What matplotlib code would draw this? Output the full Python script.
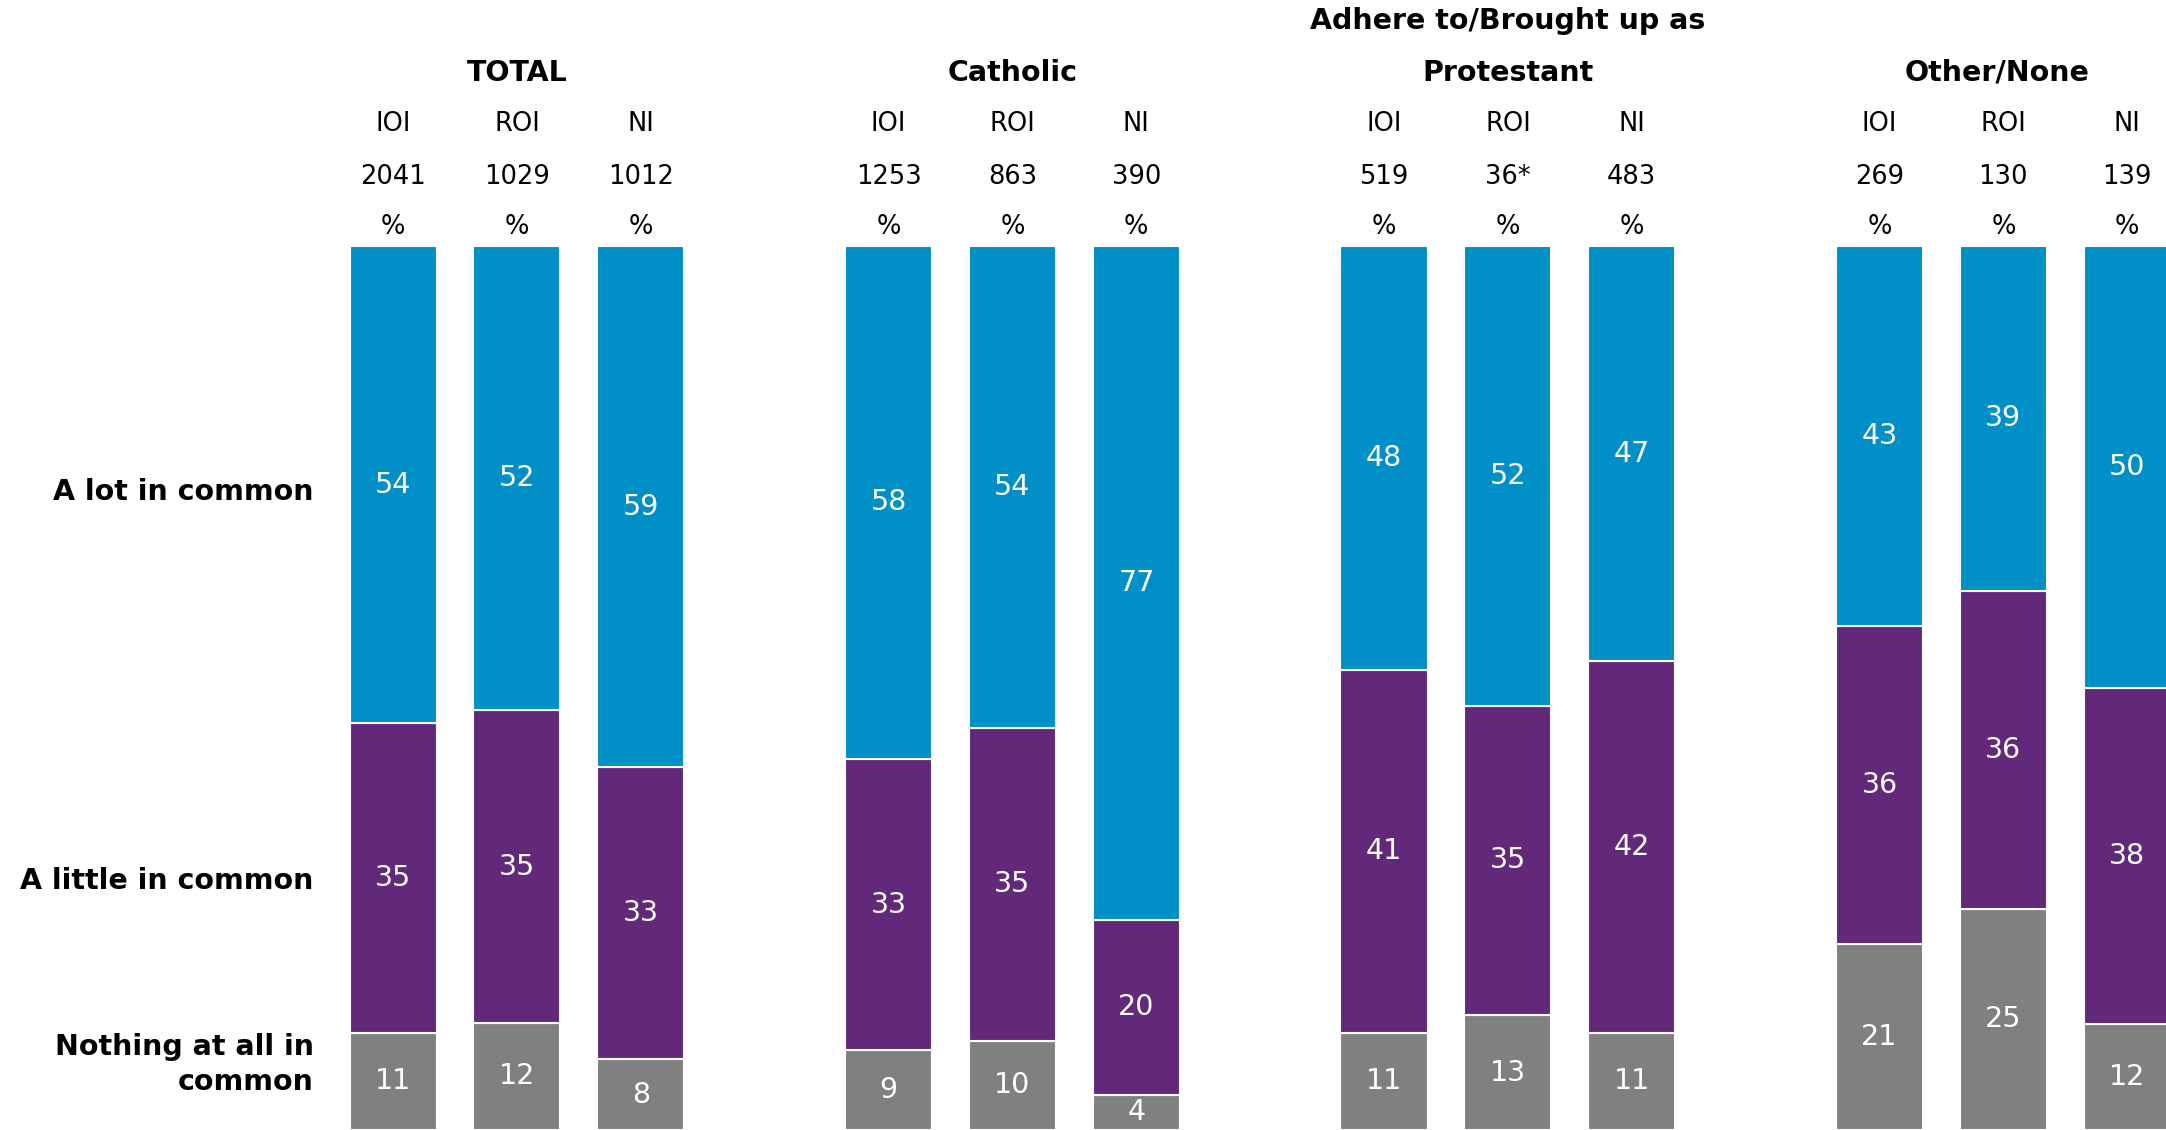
import numpy as np
import matplotlib.pyplot as plt

groups = ['TOTAL', 'Catholic', 'Protestant', 'Other/None']
regions = ['IOI', 'ROI', 'NI']
bases = ['2041', '1029', '1012', '1253', '863', '390', '519', '36*', '483', '269', '130', '139']

lot = [54, 52, 59, 58, 54, 77, 48, 52, 47, 43, 39, 50]
little = [35, 35, 33, 33, 35, 20, 41, 35, 42, 36, 36, 38]
nothing = [11, 12, 8, 9, 10, 4, 11, 13, 11, 21, 25, 12]

row_labels = ['A lot in common', 'A little in common', 'Nothing at all in\ncommon']

blue = '#008fc6'
purple = '#622879'
grey = '#808080'

# bars are scaled to 100% each
tot = np.array(lot) + np.array(little) + np.array(nothing)
s_lot = np.array(lot) / tot * 100
s_little = np.array(little) / tot * 100
s_nothing = np.array(nothing) / tot * 100

x = np.array([g * 4 + j for g in range(4) for j in range(3)], dtype=float)

fig = plt.figure(figsize=(21.66, 11.30), dpi=100)
ax = fig.add_axes([0, 0, 1, 1])
ax.set_xlim(-3.173, 14.313)
ax.set_ylim(0, 127.8)
ax.axis('off')

w = 0.703
ax.bar(x, s_nothing, w, color=grey, edgecolor='white', linewidth=1.5)
ax.bar(x, s_little, w, bottom=s_nothing, color=purple, edgecolor='white', linewidth=1.5)
ax.bar(x, s_lot, w, bottom=s_nothing + s_little, color=blue, edgecolor='white', linewidth=1.5)

vfs = 20.5
for i in range(len(x)):
    ax.text(x[i], s_nothing[i] / 2, str(nothing[i]), ha='center', va='center', color='white', fontsize=vfs)
    ax.text(x[i], s_nothing[i] + s_little[i] / 2, str(little[i]), ha='center', va='center', color='white', fontsize=vfs)
    ax.text(x[i], s_nothing[i] + s_little[i] + s_lot[i] / 2, str(lot[i]), ha='center', va='center', color='white', fontsize=vfs)

fs = 18.5
bfs = 20.5
ax.text(9, 125.4, 'Adhere to/Brought up as', ha='center', va='center', fontsize=bfs, fontweight='bold')
for g, name in enumerate(groups):
    xo = -0.05 if g == 3 else 0
    ax.text(g * 4 + 1 + xo, 119.6, name, ha='center', va='center', fontsize=bfs, fontweight='bold')
for i in range(len(x)):
    ax.text(x[i], 113.8, regions[i % 3], ha='center', va='center', fontsize=fs)
    ax.text(x[i], 107.8, bases[i], ha='center', va='center', fontsize=fs)
    ax.text(x[i], 102.1, '%', ha='center', va='center', fontsize=fs)

ax.text(-0.641, 72.1, row_labels[0], ha='right', va='center', fontsize=bfs, fontweight='bold')
ax.text(-0.641, 28.2, row_labels[1], ha='right', va='center', fontsize=bfs, fontweight='bold')
ax.text(-0.641, 7.4, row_labels[2], ha='right', va='center', fontsize=bfs, fontweight='bold',
        multialignment='right', linespacing=1.3)

fig.savefig('out.png', dpi=100)
